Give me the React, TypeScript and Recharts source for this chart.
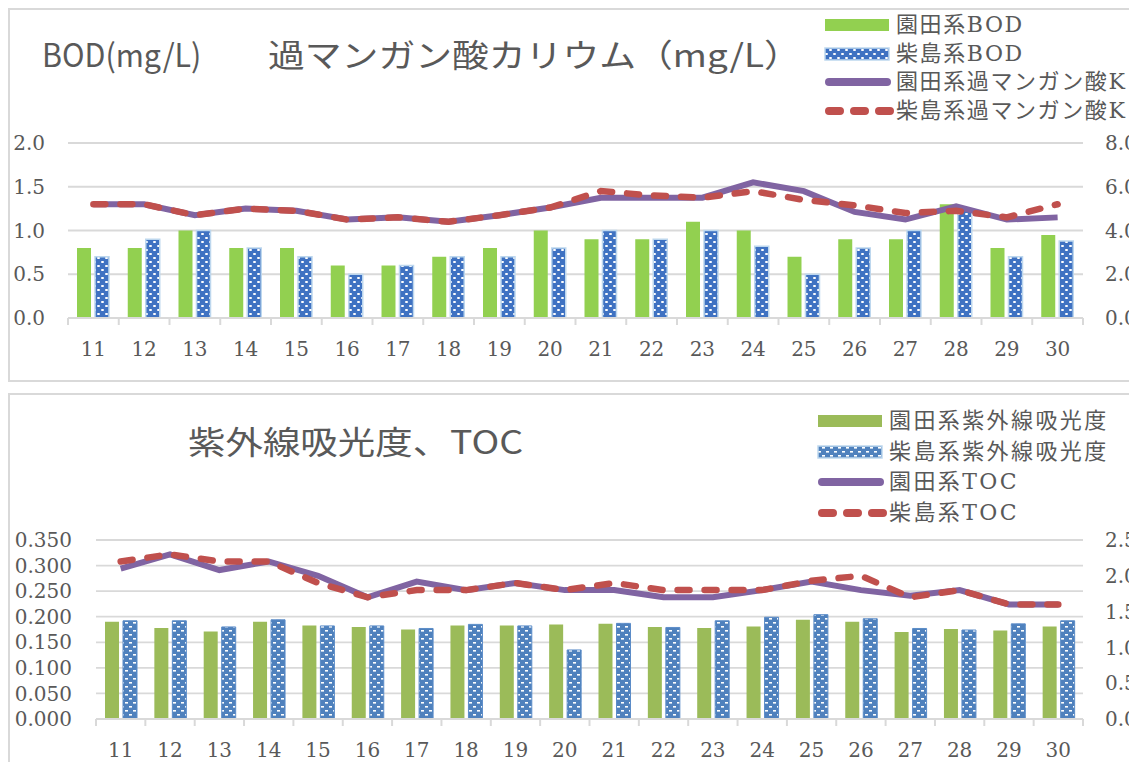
import React from "react";
import {
  ComposedChart,
  Bar,
  Line,
  XAxis,
  YAxis,
  CartesianGrid,
} from "recharts";

// 日付（11日〜30日）
const days = ["11", "12", "13", "14", "15", "16", "17", "18", "19", "20",
  "21", "22", "23", "24", "25", "26", "27", "28", "29", "30"];

// BOD (mg/L)
const bodSonoda = [0.8, 0.8, 1.0, 0.8, 0.8, 0.6, 0.6, 0.7, 0.8, 1.0,
  0.9, 0.9, 1.1, 1.0, 0.7, 0.9, 0.9, 1.3, 0.8, 0.95];
const bodShibajima = [0.7, 0.9, 1.0, 0.8, 0.7, 0.5, 0.6, 0.7, 0.7, 0.8,
  1.0, 0.9, 1.0, 0.82, 0.5, 0.8, 1.0, 1.24, 0.7, 0.88];

// 過マンガン酸カリウム (mg/L)
const kmnSonoda = [5.2, 5.2, 4.7, 5.0, 4.9, 4.5, 4.6, 4.4, 4.7, 5.05,
  5.5, 5.5, 5.5, 6.2, 5.8, 4.85, 4.5, 5.1, 4.5, 4.6];
const kmnShibajima = [5.2, 5.2, 4.7, 5.0, 4.9, 4.5, 4.6, 4.4, 4.7, 5.05,
  5.8, 5.6, 5.5, 5.8, 5.4, 5.15, 4.8, 4.9, 4.6, 5.2];

// 紫外線吸光度
const uvSonoda = [0.190, 0.178, 0.171, 0.190, 0.183, 0.180, 0.175, 0.183, 0.183, 0.185,
  0.186, 0.180, 0.178, 0.181, 0.194, 0.190, 0.170, 0.176, 0.173, 0.181];
const uvShibajima = [0.192, 0.192, 0.180, 0.194, 0.182, 0.182, 0.177, 0.185, 0.182, 0.135,
  0.187, 0.179, 0.192, 0.199, 0.204, 0.196, 0.177, 0.174, 0.186, 0.192];

// TOC
const tocSonoda = [2.1, 2.3, 2.08, 2.2, 2.0, 1.7, 1.92, 1.8, 1.9, 1.8,
  1.8, 1.7, 1.7, 1.8, 1.92, 1.8, 1.72, 1.8, 1.6, 1.6];
const tocShibajima = [2.2, 2.3, 2.2, 2.2, 1.9, 1.7, 1.8, 1.8, 1.9, 1.8,
  1.9, 1.8, 1.8, 1.8, 1.93, 2.0, 1.7, 1.8, 1.6, 1.6];

const bodTicks = [0, 0.5, 1, 1.5, 2];
const kmnTicks = [0, 2, 4, 6, 8];
const uvTicks = [0, 0.05, 0.1, 0.15, 0.2, 0.25, 0.3, 0.35];
const tocTicks = [0, 0.5, 1, 1.5, 2, 2.5];

const topData = days.map((d, i) => ({
  day: d,
  bodS: bodSonoda[i],
  bodH: bodShibajima[i],
  kmnS: kmnSonoda[i],
  kmnH: kmnShibajima[i],
}));

const bottomData = days.map((d, i) => ({
  day: d,
  uvS: uvSonoda[i],
  uvH: uvShibajima[i],
  tocS: tocSonoda[i],
  tocH: tocShibajima[i],
}));

const GREY = "#595959";
const GRID = "#d9d9d9";
const PURPLE = "#8064A2";
const RED = "#C0504D";
const SERIF = "'DejaVu Serif', 'Noto Sans CJK JP', serif";
const SANS = "'Noto Sans CJK JP', 'Liberation Sans', sans-serif";

const tickStyle = { fontSize: 20, fill: GREY, fontFamily: SERIF };

// Excel風：目盛り線はカテゴリの境界に、ラベルは中央に
function makeXTick(step: number) {
  return function XTick(props: any) {
    const { x, y, payload } = props;
    const i = days.indexOf(String(payload.value));
    const last = i === days.length - 1;
    return (
      <g>
        <line x1={x - step / 2} x2={x - step / 2} y1={y} y2={y + 7} stroke={GRID} strokeWidth={2} />
        {last && (
          <line x1={x + step / 2} x2={x + step / 2} y1={y} y2={y + 7} stroke={GRID} strokeWidth={2} />
        )}
        <text x={x} y={y + 31} textAnchor="middle" dominantBaseline="central" {...tickStyle}>
          {payload.value}
        </text>
      </g>
    );
  };
}

function Swatch({ kind, fill }: { kind: string; fill: string }) {
  return (
    <svg width={70} height={20} style={{ display: "block" }}>
      {kind === "bar" && <rect x={1} y={4} width={64} height={12} fill={fill} />}
      {kind === "pattern" && (
        <rect x={1} y={4} width={64} height={12} fill={fill} stroke="#BDD7EE" strokeWidth={1.5} />
      )}
      {kind === "line" && (
        <line x1={5} x2={63} y1={10} y2={10} stroke={fill} strokeWidth={8} strokeLinecap="round" />
      )}
      {kind === "dash" && (
        <line x1={5} x2={66} y1={10} y2={10} stroke={fill} strokeWidth={8}
          strokeLinecap="round" strokeDasharray="11 14" />
      )}
    </svg>
  );
}

function LegendBlock({ items, left, top, gap, spacing }: any) {
  return (
    <>
      {items.map((it: any, k: number) => (
        <div
          key={it.label}
          style={{
            position: "absolute",
            left,
            top: top + k * gap - 10,
            height: 20,
            display: "flex",
            alignItems: "center",
            whiteSpace: "nowrap",
          }}
        >
          <Swatch kind={it.kind} fill={it.fill} />
          <span
            style={{
              fontFamily: SERIF,
              fontSize: 22,
              letterSpacing: spacing,
              color: GREY,
              marginLeft: 2,
              lineHeight: "20px",
            }}
          >
            {it.label}
          </span>
        </div>
      ))}
    </>
  );
}

const cardStyle: React.CSSProperties = {
  position: "absolute",
  left: 0,
  width: 1200,
  border: `2px solid ${GRID}`,
  boxSizing: "border-box",
  background: "white",
};

const titleStyle: React.CSSProperties = {
  position: "absolute",
  fontFamily: SANS,
  fontSize: 32,
  color: GREY,
  whiteSpace: "nowrap",
  lineHeight: "40px",
  transformOrigin: "left center",
};

export default function App() {
  const topStep = 1015 / days.length;
  const botStep = 987 / days.length;

  return (
    <div style={{ position: "relative", width: 1129, height: 754, overflow: "hidden" }}>
      <style>{"body{overflow:hidden;}"}</style>

      {/* 上段：BOD・過マンガン酸カリウム */}
      <div style={{ ...cardStyle, top: 0, height: 374 }} />
      <div style={{ position: "absolute", left: 0, top: 0 }}>
        <ComposedChart
          width={1200}
          height={360}
          data={topData}
          margin={{ top: 135, right: 85, bottom: 0, left: 0 }}
        >
          <defs>
            <pattern id="patTop" width={8} height={8} patternUnits="userSpaceOnUse">
              <rect width={8} height={8} fill="#3F72C2" />
              <rect x={1} y={1} width={3} height={2} rx={1} fill="white" />
              <rect x={5} y={5} width={3} height={2} rx={1} fill="white" />
            </pattern>
          </defs>
          <CartesianGrid yAxisId="left" vertical={false} stroke={GRID} strokeWidth={1.8} />
          <XAxis
            dataKey="day"
            height={50}
            interval={0}
            tickSize={0}
            tickMargin={0}
            axisLine={{ stroke: GRID, strokeWidth: 2 }}
            tickLine={false}
            tick={makeXTick(topStep)}
          />
          <YAxis
            yAxisId="left"
            width={60}
            domain={[0, 2]}
            ticks={bodTicks}
            interval={0}
            tickFormatter={(v: number) => v.toFixed(1)}
            axisLine={false}
            tickLine={false}
            tickSize={0}
            tickMargin={23}
            tick={tickStyle}
          />
          <YAxis
            yAxisId="right"
            orientation="right"
            width={40}
            domain={[0, 8]}
            ticks={kmnTicks}
            interval={0}
            tickFormatter={(v: number) => v.toFixed(1)}
            axisLine={false}
            tickLine={false}
            tickSize={0}
            tickMargin={22}
            tick={{ ...tickStyle, textAnchor: "start" }}
          />
          <Bar yAxisId="left" dataKey="bodS" fill="#92D050" barSize={14} isAnimationActive={false} />
          <Bar
            yAxisId="left"
            dataKey="bodH"
            fill="url(#patTop)"
            stroke="#BDD7EE"
            strokeWidth={1.5}
            barSize={14}
            isAnimationActive={false}
          />
          <Line
            yAxisId="right"
            dataKey="kmnS"
            type="linear"
            stroke={PURPLE}
            strokeWidth={6}
            dot={false}
            activeDot={false}
            isAnimationActive={false}
          />
          <Line
            yAxisId="right"
            dataKey="kmnH"
            type="linear"
            stroke={RED}
            strokeWidth={6.5}
            strokeDasharray="12 15"
            strokeLinecap="round"
            dot={false}
            activeDot={false}
            isAnimationActive={false}
          />
        </ComposedChart>
      </div>
      <div style={{ ...titleStyle, left: 34, top: 25, transform: "scaleX(0.95)" }}>BOD(mg/L)</div>
      <div style={{ ...titleStyle, left: 260, top: 25, transform: "scaleX(1.15)" }}>
        過マンガン酸カリウム（mg/L）
      </div>
      <LegendBlock
        left={816}
        top={17}
        gap={28.5}
        spacing={1.6}
        items={[
          { kind: "bar", fill: "#92D050", label: "園田系BOD" },
          { kind: "pattern", fill: "url(#patTop)", label: "柴島系BOD" },
          { kind: "line", fill: PURPLE, label: "園田系過マンガン酸K" },
          { kind: "dash", fill: RED, label: "柴島系過マンガン酸K" },
        ]}
      />

      {/* 下段：紫外線吸光度・TOC */}
      <div style={{ ...cardStyle, top: 385, height: 400 }} />
      <div style={{ position: "absolute", left: 0, top: 385 }}>
        <ComposedChart
          width={1200}
          height={372}
          data={bottomData}
          margin={{ top: 147, right: 85, bottom: 0, left: 0 }}
        >
          <defs>
            <pattern id="patBot" width={8} height={8} patternUnits="userSpaceOnUse">
              <rect width={8} height={8} fill="#4F81BD" />
              <rect x={1} y={1} width={3} height={1.6} fill="white" />
              <rect x={5} y={5} width={3} height={1.6} fill="white" />
            </pattern>
          </defs>
          <CartesianGrid yAxisId="left" vertical={false} stroke={GRID} strokeWidth={1.8} />
          <XAxis
            dataKey="day"
            height={46}
            interval={0}
            tickSize={0}
            tickMargin={0}
            axisLine={{ stroke: GRID, strokeWidth: 2 }}
            tickLine={false}
            tick={makeXTick(botStep)}
          />
          <YAxis
            yAxisId="left"
            width={88}
            domain={[0, 0.35]}
            ticks={uvTicks}
            interval={0}
            tickFormatter={(v: number) => v.toFixed(3)}
            axisLine={false}
            tickLine={false}
            tickSize={0}
            tickMargin={24}
            tick={tickStyle}
          />
          <YAxis
            yAxisId="right"
            orientation="right"
            width={40}
            domain={[0, 2.5]}
            ticks={tocTicks}
            interval={0}
            tickFormatter={(v: number) => v.toFixed(1)}
            axisLine={false}
            tickLine={false}
            tickSize={0}
            tickMargin={22}
            tick={{ ...tickStyle, textAnchor: "start" }}
          />
          <Bar yAxisId="left" dataKey="uvS" fill="#9BBB59" barSize={14} isAnimationActive={false} />
          <Bar
            yAxisId="left"
            dataKey="uvH"
            fill="url(#patBot)"
            stroke="#5B8CC8"
            strokeWidth={1}
            barSize={14}
            isAnimationActive={false}
          />
          <Line
            yAxisId="right"
            dataKey="tocS"
            type="linear"
            stroke={PURPLE}
            strokeWidth={6}
            dot={false}
            activeDot={false}
            isAnimationActive={false}
          />
          <Line
            yAxisId="right"
            dataKey="tocH"
            type="linear"
            stroke={RED}
            strokeWidth={6.5}
            strokeDasharray="12 15"
            strokeLinecap="round"
            dot={false}
            activeDot={false}
            isAnimationActive={false}
          />
        </ComposedChart>
      </div>
      <div style={{ ...titleStyle, left: 180, top: 412, transform: "scaleX(1.17)" }}>
        紫外線吸光度、TOC
      </div>
      <LegendBlock
        left={809}
        top={413}
        gap={30.5}
        spacing={2.4}
        items={[
          { kind: "bar", fill: "#9BBB59", label: "園田系紫外線吸光度" },
          { kind: "pattern", fill: "url(#patBot)", label: "柴島系紫外線吸光度" },
          { kind: "line", fill: PURPLE, label: "園田系TOC" },
          { kind: "dash", fill: RED, label: "柴島系TOC" },
        ]}
      />
    </div>
  );
}
